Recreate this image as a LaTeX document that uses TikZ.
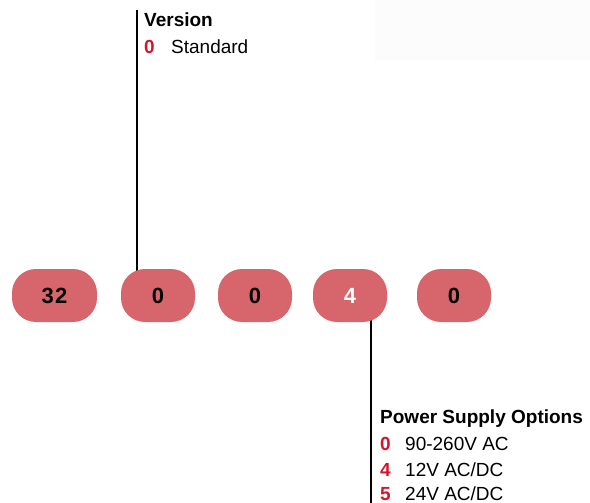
\documentclass[tikz,border=0pt]{standalone}
\usepackage{fontspec}
\setmainfont{Liberation Sans}
\definecolor{pillred}{RGB}{214,102,107}
\definecolor{codered}{RGB}{214,22,40}
\definecolor{faint}{RGB}{252,252,252}
\tikzset{
  pill/.style={fill=pillred, rounded corners=24pt, minimum height=53pt, inner sep=0pt, font=\fontsize{22}{22}\selectfont\bfseries},
  head/.style={anchor=base west, inner sep=0pt, font=\fontsize{19}{19}\selectfont\bfseries},
  code/.style={anchor=base west, inner sep=0pt, text=codered, font=\fontsize{19}{19}\selectfont\bfseries},
  item/.style={anchor=base west, inner sep=0pt, font=\fontsize{19}{19}\selectfont},
  leader/.style={draw=black, line width=2.6pt}
}
\begin{document}
\begin{tikzpicture}[x=1pt,y=-1pt]
\useasboundingbox (0,0) rectangle (590,503);
\fill[faint] (375,0) rectangle (590,60);
% leader lines
\coordinate (vtop) at (137,10);
\coordinate (vbot) at (137,280);
\coordinate (ptop) at (371,312);
\coordinate (pbot) at (371,503);
\draw[leader] (vtop) -- (vbot);
\draw[leader] (ptop) -- (pbot);
% pills
\node[pill, minimum width=85pt] (p1) at (54.5,295.5) {3\kern1.5pt 2};
\node[pill, minimum width=74pt] (p2) at (158,295.5) {0};
\node[pill, minimum width=74pt] (p3) at (255,295.5) {0};
\node[pill, minimum width=74pt, text=white] (p4) at (350,295.5) {4};
\node[pill, minimum width=74pt] (p5) at (454,295.5) {0};
% version labels
\node[head] (vh) at (144,27) {Version};
\node[code] (v0) at (144,54) {0};
\node[item] (v0t) at (171,54) {Standard};
% power labels
\node[head] (ph) at (380,423) {Power Supply Options};
\node[code] (c0) at (380,450) {0};
\node[item] (c0t) at (405,450) {90-260V AC};
\node[code] (c4) at (380,476) {4};
\node[item] (c4t) at (405,476) {12V AC/DC};
\node[code] (c5) at (380,500) {5};
\node[item] (c5t) at (405,500) {24V AC/DC};
\end{tikzpicture}
\end{document}
